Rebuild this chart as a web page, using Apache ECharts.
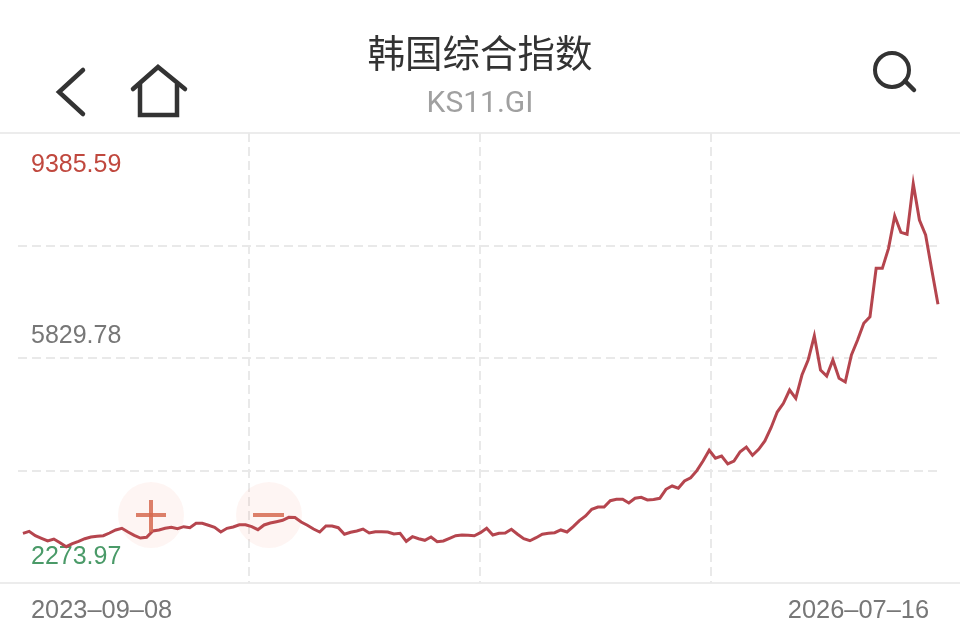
<!DOCTYPE html>
<html>
<head>
<meta charset="utf-8">
<title>韩国综合指数</title>
<style>
	html, body { margin: 0; padding: 0; background: #fff; }
	#chart-one { width: 960px; height: 643px; }
</style>
<script src="https://cdn.jsdelivr.net/npm/echarts@6/dist/echarts.min.js"></script>
</head>
<body>
<div id="chart-one"></div>
<script>
var titleText = '韩国综合指数';
var codeText = 'KS11.GI';
var dateLabels = ['2023–09–08', '2026–07–16'];
var yMin = 2273.97;
var yMid = 5829.78;
var yMax = 9385.59;

// weekly close
var closeValues = [
	3059, 3091, 3021, 2980, 2938, 2969, 2911, 2848, 2895, 2933,
	2974, 3001, 3012, 3021, 3064, 3112, 3138, 3080, 3028, 2985,
	2996, 3096, 3112, 3138, 3154, 3132, 3164, 3148, 3217, 3217,
	3186, 3154, 3080, 3138, 3159, 3195, 3195, 3164, 3116, 3191,
	3222, 3243, 3265, 3312, 3309, 3238, 3186, 3127, 3080, 3175,
	3175, 3148, 3044, 3075, 3096, 3127, 3064, 3085, 3085, 3080,
	3048, 3059, 2933, 3006, 2974, 2949, 3001, 2927, 2938, 2980,
	3021, 3032, 3028, 3021, 3069, 3138, 3032, 3059, 3064, 3123,
	3044, 2974, 2942, 2990, 3044, 3059, 3069, 3112, 3080, 3164,
	3259, 3333, 3439, 3475, 3475, 3575, 3597, 3598, 3538, 3613,
	3628, 3586, 3594, 3613, 3755, 3807, 3771, 3886, 3938, 4049,
	4202, 4371, 4245, 4281, 4155, 4202, 4349, 4423, 4292, 4387,
	4518, 4728, 4976, 5114, 5324, 5193, 5561, 5798, 6180, 5640,
	5545, 5798, 5509, 5451, 5877, 6114, 6378, 6482, 7247, 7247,
	7563, 8075, 7816, 7785, 8585, 8011, 7774, 7221, 6678
];

var LINE_COLOR = '#b5454e';
var GRID_COLOR = '#e9e9e9';
var BORDER_COLOR = '#ececec';
var ICON_COLOR = '#333333';
var ZOOM_BG = 'rgba(240,120,90,0.07)';
var ZOOM_COLOR = 'rgba(214,106,80,0.85)';

var chart = echarts.init(document.getElementById('chart-one'));

function iconLine(points) {
	return {
		type: 'polyline',
		z: 10,
		shape: { points: points },
		style: { fill: null, stroke: ICON_COLOR, lineWidth: 4.5, lineCap: 'round', lineJoin: 'miter' }
	};
}

function rule(y) {
	return {
		type: 'line',
		shape: { x1: 0, y1: y, x2: 960, y2: y },
		style: { stroke: BORDER_COLOR, lineWidth: 2 }
	};
}

function zoomBar(x1, y1, x2, y2) {
	return {
		type: 'line',
		z: 10,
		shape: { x1: x1, y1: y1, x2: x2, y2: y2 },
		style: { stroke: ZOOM_COLOR, lineWidth: 4 }
	};
}

function zoomDisc(cx, cy) {
	return {
		type: 'circle',
		z: 10,
		shape: { cx: cx, cy: cy, r: 33 },
		style: { fill: ZOOM_BG }
	};
}

var option = {
	backgroundColor: '#fff',
	animation: false,
	title: {
		text: titleText,
		subtext: codeText,
		left: 'center',
		top: 29,
		itemGap: 18,
		textStyle: {
			color: '#333',
			fontFamily: 'Noto Sans CJK SC',
			fontSize: 37.5,
			fontWeight: 400
		},
		subtextStyle: {
			color: '#a0a0a0',
			fontFamily: 'Roboto',
			fontSize: 30,
			fontWeight: 400
		}
	},
	grid: { left: 18, right: 18, top: 133, bottom: 60 },
	xAxis: [{
		// quarter lines and the two end dates
		type: 'value',
		min: 0,
		max: 4,
		interval: 1,
		axisLine: { show: false },
		axisTick: { show: false },
		splitLine: {
			show: true,
			showMinLine: false,
			showMaxLine: false,
			lineStyle: { color: GRID_COLOR, width: 2, type: [9, 5] }
		},
		axisLabel: {
			margin: 15,
			color: '#777',
			fontFamily: 'Liberation Sans',
			fontSize: 25.4,
			alignMinLabel: 'left',
			alignMaxLabel: 'right',
			padding: [0, 13, 0, 13],
			formatter: function(value) {
				if (value === 0) return dateLabels[0];
				if (value === 4) return dateLabels[1];
				return '';
			}
		}
	}, {
		// position of each weekly point
		type: 'value',
		show: false,
		min: -0.8,
		max: 148.65,
		splitLine: { show: false }
	}],
	yAxis: {
		type: 'value',
		min: yMin,
		max: yMax,
		interval: (yMax - yMin) / 4,
		axisLine: { show: false },
		axisTick: { show: false },
		splitLine: {
			show: true,
			showMinLine: false,
			showMaxLine: false,
			lineStyle: { color: GRID_COLOR, width: 2, type: [9, 5] }
		},
		axisLabel: {
			inside: true,
			margin: 13,
			fontFamily: 'Liberation Sans',
			fontSize: 25,
			formatter: function(value, index) {
				if (index === 0) return '{low|' + yMin.toFixed(2) + '}';
				if (index === 2) return '{mid|' + yMid.toFixed(2) + '}';
				if (index === 4) return '{high|' + yMax.toFixed(2) + '}';
				return '';
			},
			rich: {
				low: { color: '#4a9a68', fontSize: 25, fontFamily: 'Liberation Sans', padding: [0, 0, 52, 0] },
				mid: { color: '#777', fontSize: 25, fontFamily: 'Liberation Sans', padding: [0, 0, 44, 0] },
				high: { color: '#c0483e', fontSize: 25, fontFamily: 'Liberation Sans', padding: [64, 0, 0, 0] }
			}
		}
	},
	graphic: [
		rule(133),
		rule(583),
		iconLine([[83, 70], [59, 92], [83, 114]]),
		iconLine([[133, 89], [158, 67], [185, 89]]),
		iconLine([[140, 84], [140, 115], [177, 115], [177, 84]]),
		{
			type: 'circle',
			z: 10,
			shape: { cx: 892, cy: 70, r: 17 },
			style: { fill: null, stroke: ICON_COLOR, lineWidth: 4 }
		},
		iconLine([[905, 81], [914, 90]]),
		zoomDisc(151, 515),
		zoomBar(136, 515, 166, 515),
		zoomBar(151, 500, 151, 532),
		zoomDisc(269, 515),
		zoomBar(253, 515, 284, 515)
	],
	series: [{
		type: 'line',
		xAxisIndex: 1,
		symbol: 'none',
		silent: true,
		lineStyle: { color: LINE_COLOR, width: 3, join: 'miter' },
		data: closeValues.map(function(v, i) { return [i, v]; })
	}]
};

chart.setOption(option);
</script>
</body>
</html>
